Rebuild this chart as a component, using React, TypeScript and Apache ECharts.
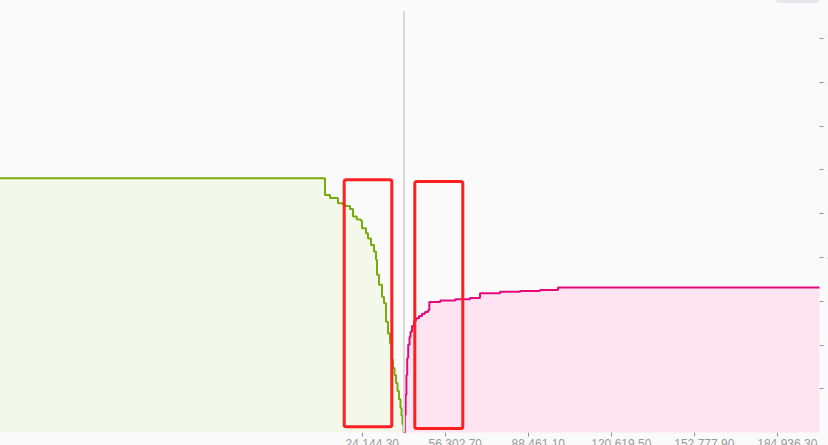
import React, { useEffect, useRef } from "react";
import * as echarts from "echarts";

// Order-book depth (cumulative volume) — bids on the left, asks on the right
const bidPrices = [-116229, 9692, 11629, 14729, 16666, 17441, 19379, 20541, 21975, 23641, 24028, 25578, 26353, 27515, 28678, 29453, 29840, 30615, 31777, 32552, 33327, 34102, 34877, 35458, 36039, 36620, 37202, 37783, 38364, 38945, 39333, 39720, 40150];
const bidDepth = [580, 542, 535, 523, 520, 517, 510, 493, 486, 483, 466, 455, 443, 428, 413, 394, 360, 337, 310, 295, 253, 226, 204, 166, 147, 131, 113, 95, 76, 56, 38, 19, 0];

const askPrices = [40300, 40613, 40923, 41233, 41543, 41930, 42434, 42821, 43402, 44177, 44952, 46114, 47277, 48439, 49601, 50105, 54367, 60179, 65872, 69747, 77496, 85245, 92994, 99968, 201286];
const askDepth = [0, 40, 86, 131, 170, 200, 218, 230, 243, 255, 261, 266, 271, 275, 279, 298, 301, 304, 307, 318, 321, 323, 325, 331, 331];

const midPrice = 40223.5;
const priceMin = -116229;
const priceMax = 201286;
const xTickValues = [24144.3, 56302.7, 88461.1, 120619.5, 152777.9, 184936.3];
const yTickValues = [100, 200, 300, 400, 500, 600, 700, 800, 900];
const depthMax = 962;

export default function App() {
  const ref = useRef<HTMLDivElement>(null);

  useEffect(() => {
    if (!ref.current) return;
    const chart = echarts.init(ref.current, null, { renderer: "svg" });
    const bids = bidPrices.map((p, i) => [p, bidDepth[i]]);
    const asks = askPrices.map((p, i) => [p, askDepth[i]]);
    const labelStyle = {
      color: "#9a9a9a",
      fontSize: 12,
      fontFamily: "'Liberation Sans', Arial, sans-serif",
    };
    chart.setOption({
      animation: false,
      backgroundColor: "#fafafa",
      grid: {
        left: 0,
        right: 8.5,
        top: 11,
        bottom: 12.5,
        containLabel: false,
        outerBoundsMode: "none",
      },
      xAxis: {
        type: "value",
        min: priceMin,
        max: priceMax,
        axisLine: { show: false, onZero: false },
        splitLine: { show: false },
        axisTick: {
          show: true,
          length: 4,
          customValues: xTickValues,
          lineStyle: { color: "#8a90a0" },
        },
        axisLabel: {
          ...labelStyle,
          margin: 5,
          padding: [0, 0, 0, 20],
          customValues: xTickValues,
          formatter: (v: number) =>
            v.toLocaleString("en-US", { minimumFractionDigits: 2, maximumFractionDigits: 2 }),
        },
      },
      yAxis: {
        type: "value",
        position: "right",
        min: 0,
        max: depthMax,
        axisLine: { show: false, onZero: false },
        splitLine: { show: false },
        axisTick: {
          show: true,
          length: 4,
          customValues: yTickValues,
          lineStyle: { color: "#8a90a0" },
        },
        axisLabel: {
          ...labelStyle,
          margin: 8,
          customValues: yTickValues,
        },
      },
      series: [
        {
          name: "Bids",
          type: "line",
          step: "end",
          symbol: "none",
          data: bids,
          lineStyle: { color: "#78ab0c", width: 2 },
          areaStyle: { color: "#f4f8ea", opacity: 1 },
          z: 2,
          markLine: {
            silent: true,
            symbol: ["none", "none"],
            label: { show: false },
            lineStyle: { color: "#d9d9d9", width: 2, type: "solid" },
            data: [{ xAxis: midPrice }],
          },
        },
        {
          name: "Asks",
          type: "line",
          step: "end",
          symbol: "none",
          data: asks,
          lineStyle: { color: "#e6087c", width: 2 },
          areaStyle: { color: "#fde4f0", opacity: 1 },
          z: 2,
        },
      ],
      graphic: [
        {
          type: "rect",
          z: 100,
          shape: { x: 775, y: -8, width: 44, height: 11, r: 4 },
          style: { fill: "#e6e7ea" },
        },
        {
          type: "rect",
          z: 100,
          shape: { x: 344.2, y: 179.8, width: 47.6, height: 247, r: 2 },
          style: { fill: "none", stroke: "#ff1f1f", lineWidth: 3 },
        },
        {
          type: "rect",
          z: 100,
          shape: { x: 414.8, y: 181.5, width: 48, height: 247, r: 2 },
          style: { fill: "none", stroke: "#ff1f1f", lineWidth: 3 },
        },
      ],
    });
    return () => chart.dispose();
  }, []);

  return (
    <div
      ref={ref}
      style={{
        position: "fixed",
        left: 0,
        top: 0,
        width: 828,
        height: 445,
        background: "#fafafa",
      }}
    />
  );
}
